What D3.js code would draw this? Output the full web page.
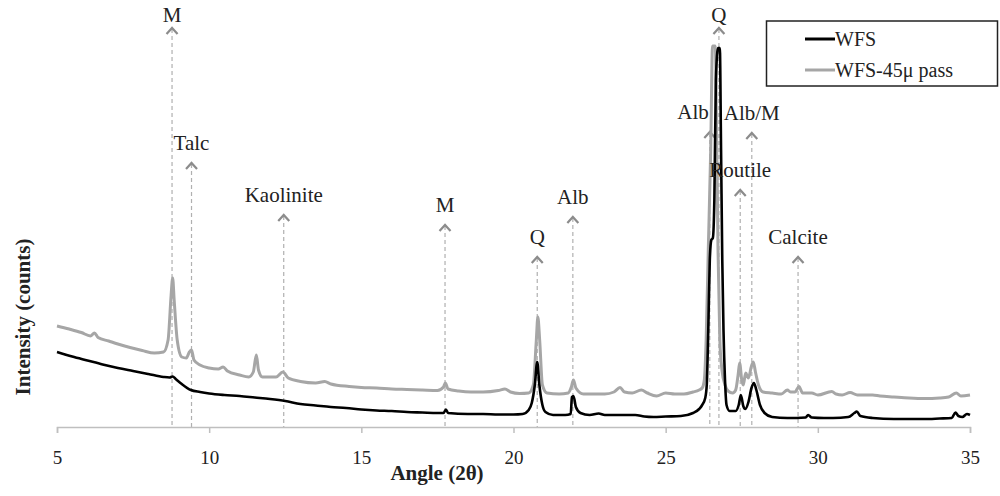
<!DOCTYPE html>
<html>
<head>
<meta charset="utf-8">
<script src="https://cdn.jsdelivr.net/npm/d3@7"></script>
<style>
  html, body { margin: 0; padding: 0; background: #fff; }
  svg { display: block; }
</style>
</head>
<body>
<svg id="chart" width="1000" height="496"></svg>
<script>
// ---------------- DATA ----------------
const xTicks = [5, 10, 15, 20, 25, 30, 35];
const seriesNames = ["WFS", "WFS-45\u03bc pass"];

// WFS (black) : angle (2θ) and intensity (counts, arbitrary)
const wfsAngle = [5.0,5.5,6.0,6.5,7.0,7.5,8.0,8.5,8.7,8.8,8.9,9.1,9.4,9.7,10.0,10.5,11.0,11.5,12.0,12.5,13.0,13.5,14.0,14.5,15.0,15.5,16.0,16.5,17.0,17.5,17.7,17.78,17.85,18.5,19.0,19.5,20.0,20.3,20.5,20.6,20.7,20.78,20.85,20.95,21.05,21.3,21.7,21.88,21.92,21.97,22.05,22.2,22.5,22.8,23.0,23.5,24.0,24.3,24.6,25.0,25.5,25.9,26.1,26.2,26.3,26.35,26.4,26.45,26.5,26.55,26.6,26.65,26.72,26.78,26.82,26.86,26.9,26.95,27.0,27.1,27.3,27.4,27.47,27.55,27.62,27.72,27.82,27.9,27.98,28.1,28.25,28.5,29.0,29.6,29.68,29.8,30.2,30.5,31.0,31.2,31.28,31.4,31.8,32.5,33.0,33.5,34.0,34.4,34.52,34.62,34.75,34.9,35.0];
const wfsCounts = [750,705,665,625,590,560,530,500,495,505,480,430,370,350,335,320,310,295,280,260,230,215,200,190,175,165,160,150,145,140,140,175,140,130,130,125,125,130,170,240,420,650,420,220,150,120,120,130,300,310,200,140,120,135,120,120,120,105,100,105,110,140,180,220,290,420,970,1670,1870,1890,2270,3470,3790,3790,2770,1670,970,470,220,160,160,220,320,210,180,250,390,440,370,220,140,100,90,95,120,95,90,90,100,140,155,110,90,80,80,80,85,90,145,110,100,130,120];

// WFS-45μ pass (grey)
const passAngle = [5.0,5.4,5.8,6.1,6.23,6.35,6.7,7.0,7.4,7.8,8.2,8.5,8.65,8.75,8.8,8.85,8.95,9.1,9.25,9.35,9.42,9.5,9.7,10.0,10.3,10.46,10.6,11.0,11.3,11.45,11.55,11.62,11.75,12.2,12.42,12.6,13.0,13.5,13.8,14.0,14.6,15.0,15.5,16.0,16.5,17.0,17.5,17.7,17.76,17.85,18.2,18.6,19.0,19.5,19.72,19.9,20.2,20.5,20.65,20.75,20.8,20.86,20.95,21.1,21.5,21.8,21.9,21.97,22.05,22.3,22.7,23.0,23.3,23.5,23.65,23.9,24.2,24.4,24.7,25.0,25.3,25.6,25.9,26.1,26.2,26.27,26.33,26.4,26.48,26.54,26.63,26.68,26.72,26.78,26.85,26.95,27.05,27.2,27.3,27.38,27.43,27.5,27.55,27.63,27.72,27.82,27.88,27.95,28.05,28.2,28.5,28.8,29.0,29.1,29.25,29.38,29.5,29.8,30.0,30.46,30.6,30.8,31.06,31.3,31.8,32.04,32.5,33.0,33.5,34.0,34.3,34.55,34.7,35.0];
const passCounts = [1010,980,945,910,940,895,860,830,795,765,740,750,870,1320,1490,1270,870,700,690,750,770,670,620,590,580,600,560,520,500,550,720,570,500,500,550,490,455,440,455,430,405,395,390,380,375,370,365,400,440,380,360,350,350,365,380,350,335,340,420,870,1100,870,420,340,330,340,400,470,390,330,330,330,350,395,350,340,370,340,310,340,330,330,350,370,390,470,870,1770,2770,3810,3810,2770,1770,870,570,420,360,340,370,520,640,470,420,540,490,610,650,550,420,350,340,330,370,350,350,405,340,340,320,355,330,320,345,320,320,310,300,290,285,290,300,340,310,320];

// Phase annotations
const phaseLabels = ["M", "Talc", "Kaolinite", "M", "Q", "Alb", "Alb", "Q", "Routile", "Alb/M", "Calcite"];
const phaseAngle  = [8.78, 9.42, 12.45, 17.75, 20.78, 21.95, 26.45, 26.75, 27.45, 27.83, 29.35];
const phaseArrowCounts = [3990, 2640, 2120, 2020, 1700, 2100, 2950, 3990, 2370, 2940, 1700];

// ---------------- CHART ----------------
const svg = d3.select("#chart");
const x = d3.scaleLinear().domain([5, 35]).range([57, 970]);
const y = d3.scaleLinear().domain([0, 4000]).range([427, 27]);

const serif = "'Liberation Serif', 'Times New Roman', serif";
const axisGrey = "#bfbfbf";

// dashed annotation lines
const ann = svg.append("g");
phaseLabels.forEach((lab, i) => {
  const px = x(phaseAngle[i]);
  const py = y(phaseArrowCounts[i]);
  ann.append("line")
    .attr("x1", px).attr("x2", px)
    .attr("y1", py + 1).attr("y2", y(0))
    .attr("stroke", "#b0b0b0").attr("stroke-width", 1.2)
    .attr("stroke-dasharray", "4,3");
});

// series lines
const line = d3.line().x(d => x(d[0])).y(d => y(d[1])).curve(d3.curveMonotoneX);
const passData = d3.zip(passAngle, passCounts);
const wfsData = d3.zip(wfsAngle, wfsCounts);
svg.append("path").datum(passData).attr("d", line)
  .attr("fill", "none").attr("stroke", "#a6a6a6").attr("stroke-width", 3).attr("stroke-linejoin", "round");
svg.append("path").datum(wfsData).attr("d", line)
  .attr("fill", "none").attr("stroke", "#000").attr("stroke-width", 2.6).attr("stroke-linejoin", "round");

// arrows and labels (on top)
const anchorFor = i => (phaseLabels[i] === "Alb" && phaseAngle[i] > 26 ? "end" : "middle");
phaseLabels.forEach((lab, i) => {
  const px = x(phaseAngle[i]);
  const py = y(phaseArrowCounts[i]);
  ann.append("path")
    .attr("d", `M${px - 5.5},${py + 6} L${px},${py} L${px + 5.5},${py + 6}`)
    .attr("fill", "none").attr("stroke", "#8c8c8c").attr("stroke-width", 2.2);
  const anchor = anchorFor(i);
  svg.append("text")
    .attr("x", anchor === "end" ? px - 1 : px)
    .attr("y", Math.max(py - 13, 22))
    .attr("text-anchor", anchor)
    .attr("font-family", serif).attr("font-size", 21)
    .attr("fill", "#222")
    .text(lab);
});

// x axis
const xAxis = d3.axisBottom(x).tickValues(xTicks).tickSize(6).tickPadding(18).tickFormat(d3.format("d"));
const gx = svg.append("g").attr("transform", `translate(0,${y(0)})`).call(xAxis);
gx.select(".domain").attr("stroke", axisGrey).attr("stroke-width", 1.5);
gx.selectAll(".tick line").attr("stroke", axisGrey).attr("stroke-width", 1.5);
gx.selectAll(".tick text").attr("font-family", serif).attr("font-size", 19).attr("fill", "#222");

// axis titles
svg.append("text")
  .attr("x", 437).attr("y", 480)
  .attr("text-anchor", "middle")
  .attr("font-family", serif).attr("font-weight", "bold").attr("font-size", 21)
  .attr("fill", "#222")
  .text("Angle (2\u03b8)");
svg.append("text")
  .attr("transform", "translate(30,317) rotate(-90)")
  .attr("text-anchor", "middle")
  .attr("font-family", serif).attr("font-weight", "bold").attr("font-size", 21)
  .attr("fill", "#222")
  .text("Intensity (counts)");

// legend
const lg = svg.append("g");
lg.append("rect").attr("x", 766.5).attr("y", 21).attr("width", 231).attr("height", 65)
  .attr("fill", "#fff").attr("stroke", "#222").attr("stroke-width", 1.5);
const legendColors = ["#000", "#a6a6a6"];
seriesNames.forEach((name, i) => {
  const ly = 39 + i * 31;
  lg.append("line").attr("x1", 805).attr("x2", 835).attr("y1", ly).attr("y2", ly)
    .attr("stroke", legendColors[i]).attr("stroke-width", 3);
  lg.append("text").attr("x", 835).attr("y", ly + 7)
    .attr("font-family", serif).attr("font-size", 20).attr("fill", "#222")
    .text(name);
});
</script>
</body>
</html>
